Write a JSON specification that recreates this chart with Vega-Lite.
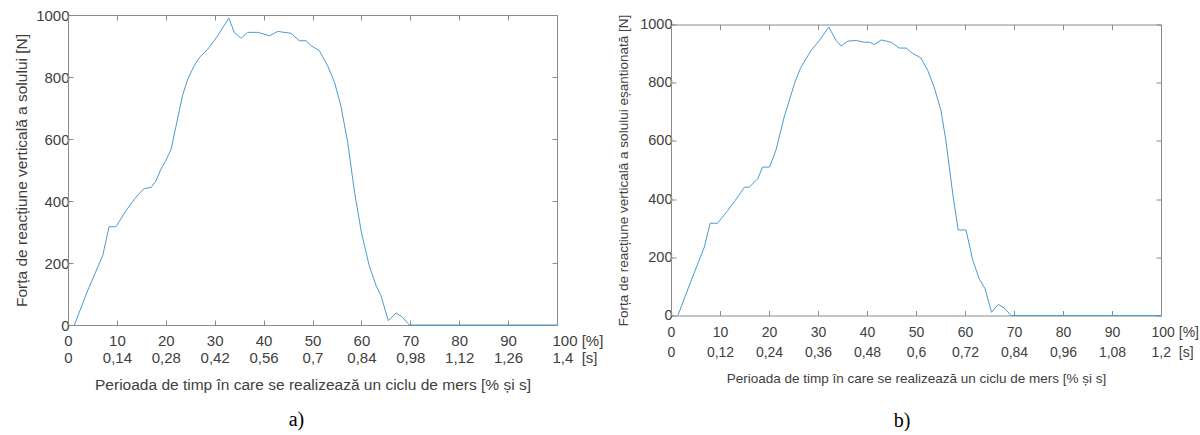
{
  "$schema": "https://vega.github.io/schema/vega-lite/v6.json",
  "background": "white",
  "padding": {"left": 14, "top": 8, "right": 0, "bottom": 0},
  "config": {
    "view": {"stroke": null},
    "font": "Liberation Sans",
    "axis": {"grid": false, "domainColor": "#8a8a8a", "tickColor": "#8a8a8a", "tickSize": -5, "labelColor": "#404040", "titleColor": "#404040", "titleFontWeight": "normal", "labelFont": "Liberation Sans", "titleFont": "Liberation Sans"}
  },
  "datasets": {
    "a": [
      {"p": 1.3, "f": 0}, {"p": 4, "f": 110}, {"p": 7.1, "f": 224}, {"p": 8.4, "f": 317}, {"p": 9.8, "f": 317},
      {"p": 10.8, "f": 342}, {"p": 12, "f": 372}, {"p": 13.6, "f": 406}, {"p": 15, "f": 432}, {"p": 15.6, "f": 440},
      {"p": 17, "f": 444}, {"p": 18, "f": 465}, {"p": 19, "f": 503}, {"p": 20, "f": 530}, {"p": 21.1, "f": 568},
      {"p": 22.4, "f": 665}, {"p": 23.4, "f": 739}, {"p": 24.5, "f": 794}, {"p": 25.8, "f": 836}, {"p": 27, "f": 865},
      {"p": 28.6, "f": 890}, {"p": 30.6, "f": 933}, {"p": 32.9, "f": 990}, {"p": 34, "f": 944}, {"p": 35.4, "f": 925},
      {"p": 36.7, "f": 944}, {"p": 38.8, "f": 944}, {"p": 41.2, "f": 933}, {"p": 42.9, "f": 947}, {"p": 45.6, "f": 941},
      {"p": 47.3, "f": 917}, {"p": 48.7, "f": 917}, {"p": 49.7, "f": 901}, {"p": 51.4, "f": 885}, {"p": 53.1, "f": 836},
      {"p": 54.5, "f": 783}, {"p": 55.8, "f": 707}, {"p": 57.2, "f": 589}, {"p": 58.6, "f": 428}, {"p": 60, "f": 299},
      {"p": 61.6, "f": 191}, {"p": 63, "f": 127}, {"p": 64, "f": 95}, {"p": 65.5, "f": 14}, {"p": 67.1, "f": 39},
      {"p": 68.4, "f": 25}, {"p": 69.8, "f": 0}, {"p": 100, "f": 0}
    ],
    "b": [
      {"p": 1.4, "f": 0}, {"p": 4, "f": 115}, {"p": 6.8, "f": 235}, {"p": 8, "f": 317}, {"p": 9.5, "f": 317},
      {"p": 11.6, "f": 361}, {"p": 13.6, "f": 407}, {"p": 15, "f": 441}, {"p": 16, "f": 441}, {"p": 17.7, "f": 470},
      {"p": 18.7, "f": 510}, {"p": 20.1, "f": 510}, {"p": 21.4, "f": 567}, {"p": 23.1, "f": 682}, {"p": 25.2, "f": 797},
      {"p": 26.5, "f": 853}, {"p": 28.6, "f": 911}, {"p": 30.5, "f": 950}, {"p": 32.2, "f": 991}, {"p": 33.7, "f": 945},
      {"p": 34.7, "f": 926}, {"p": 36.1, "f": 943}, {"p": 37.8, "f": 945}, {"p": 39.5, "f": 939}, {"p": 40.5, "f": 939},
      {"p": 41.5, "f": 931}, {"p": 42.9, "f": 947}, {"p": 44.9, "f": 939}, {"p": 46.6, "f": 919}, {"p": 48, "f": 919},
      {"p": 49.3, "f": 901}, {"p": 51, "f": 885}, {"p": 52.4, "f": 842}, {"p": 53.7, "f": 785}, {"p": 55.1, "f": 704},
      {"p": 56.1, "f": 601}, {"p": 57.5, "f": 418}, {"p": 58.6, "f": 294}, {"p": 60.2, "f": 294}, {"p": 61.6, "f": 189},
      {"p": 62.9, "f": 126}, {"p": 64.1, "f": 92}, {"p": 65.4, "f": 11}, {"p": 66.8, "f": 38}, {"p": 68, "f": 26},
      {"p": 69.4, "f": 0}, {"p": 100, "f": 0}
    ]
  },
  "spacing": 114,
  "bounds": "flush",
  "center": true,
  "hconcat": [
    {
      "width": 489,
      "height": 310,
      "data": {"name": "a"},
      "title": {"text": "a)", "orient": "bottom", "font": "Liberation Serif", "fontSize": 20, "fontWeight": "normal", "color": "black", "frame": "group", "dx": -16, "offset": 17},
      "layer": [
        {
          "mark": {"type": "line", "color": "#4a9bd1", "strokeWidth": 1},
          "encoding": {
            "x": {"field": "p", "type": "quantitative", "scale": {"domain": [0, 100], "nice": false},
              "axis": {"orient": "bottom", "values": [0, 10, 20, 30, 40, 50, 60, 70, 80, 90, 100],
                "labelExpr": "datum.value == 100 ? ['100 [%]', '1,4\u00a0 [s]'] : [datum.label, replace(format(datum.value * 0.014, '.2~f'), '.', ',')]",
                "labelAlign": {"condition": {"test": "datum.value == 100", "value": "left"}, "value": "center"},
                "labelOffset": {"condition": {"test": "datum.value == 100", "value": -5}, "value": 0},
                "labelFontSize": 15, "labelLineHeight": 17, "labelPadding": 13, "labelFlush": false, "labelOverlap": false,
                "title": "Perioada de timp în care se realizează un ciclu de mers [% și s]", "titleFontSize": 15.5, "titlePadding": 12}},
            "y": {"field": "f", "type": "quantitative", "scale": {"domain": [0, 1000], "nice": false},
              "axis": {"orient": "left", "values": [0, 200, 400, 600, 800, 1000], "format": "d", "labelFontSize": 15, "labelPadding": 4,
                "title": "Forța de reacțiune verticală a solului [N]", "titleFontSize": 15.5, "titlePadding": 6}}
          }
        },
        {
          "mark": {"type": "line", "opacity": 0},
          "encoding": {
            "x": {"field": "p", "type": "quantitative", "axis": {"orient": "top", "values": [0, 10, 20, 30, 40, 50, 60, 70, 80, 90, 100], "labels": false, "title": null}},
            "y": {"field": "f", "type": "quantitative", "axis": {"orient": "right", "values": [0, 200, 400, 600, 800, 1000], "labels": false, "title": null}}
          }
        }
      ],
      "resolve": {"axis": {"x": "independent", "y": "independent"}}
    },
    {
      "width": 490,
      "height": 291,
      "data": {"name": "b"},
      "title": {"text": "b)", "orient": "bottom", "font": "Liberation Serif", "fontSize": 20, "fontWeight": "normal", "color": "black", "frame": "group", "dx": -14, "offset": 26},
      "layer": [
        {
          "mark": {"type": "line", "color": "#4a9bd1", "strokeWidth": 1},
          "encoding": {
            "x": {"field": "p", "type": "quantitative", "scale": {"domain": [0, 100], "nice": false},
              "axis": {"orient": "bottom", "values": [0, 10, 20, 30, 40, 50, 60, 70, 80, 90, 100],
                "labelExpr": "datum.value == 100 ? ['100 [%]', '1,2\u00a0 [s]'] : [datum.label, replace(format(datum.value * 0.012, '.2~f'), '.', ',')]",
                "labelAlign": {"condition": {"test": "datum.value == 100", "value": "left"}, "value": "center"},
                "labelOffset": {"condition": {"test": "datum.value == 100", "value": -10}, "value": 0},
                "labelFontSize": 14, "labelLineHeight": 20, "labelPadding": 15, "labelFlush": false, "labelOverlap": false,
                "title": "Perioada de timp în care se realizează un ciclu de mers [% și s]", "titleFontSize": 13.5, "titlePadding": 12}},
            "y": {"field": "f", "type": "quantitative", "scale": {"domain": [0, 1000], "nice": false},
              "axis": {"orient": "left", "values": [0, 200, 400, 600, 800, 1000], "format": "d", "labelFontSize": 14.5, "labelPadding": 4,
                "title": "Forța de reacțiune verticală a solului eșantionată [N]", "titleFontSize": 13.5, "titlePadding": 9}}
          }
        },
        {
          "mark": {"type": "line", "opacity": 0},
          "encoding": {
            "x": {"field": "p", "type": "quantitative", "axis": {"orient": "top", "values": [0, 10, 20, 30, 40, 50, 60, 70, 80, 90, 100], "labels": false, "title": null}},
            "y": {"field": "f", "type": "quantitative", "axis": {"orient": "right", "values": [0, 200, 400, 600, 800, 1000], "labels": false, "title": null}}
          }
        }
      ],
      "resolve": {"axis": {"x": "independent", "y": "independent"}}
    }
  ]
}
